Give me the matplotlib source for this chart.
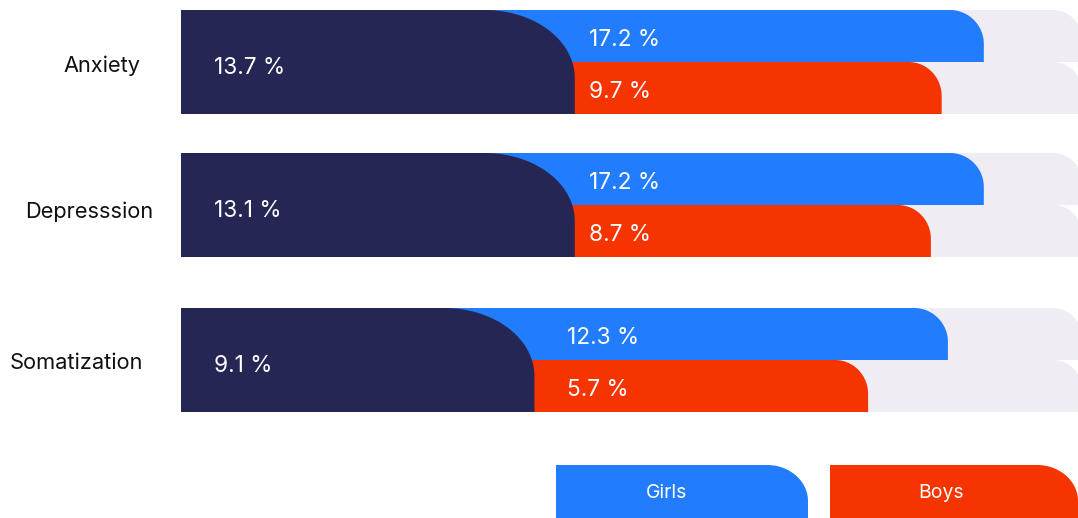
import matplotlib
matplotlib.use("Agg")
import matplotlib.pyplot as plt
from matplotlib.patches import Polygon
import numpy as np

# ---- data ----
categories = ["Anxiety", "Depresssion", "Somatization"]
overall_pct = [13.7, 13.1, 9.1]
girls_pct = [17.2, 17.2, 12.3]
boys_pct = [9.7, 8.7, 5.7]
# drawn bar lengths on the 0-100 track
overall_len = [43.9, 43.9, 39.4]
girls_len = [89.5, 89.5, 85.5]
boys_len = [84.8, 83.6, 76.6]
legend_labels = ["Girls", "Boys"]

NAVY = "#262654"
BLUE = "#217CFE"
RED = "#F53400"
GRAY = "#EFECF3"

plt.rcParams["font.family"] = ["Inter", "DejaVu Sans"]

W, H = 1078, 518
fig = plt.figure(figsize=(W / 100, H / 100), dpi=100)
X0 = 181
ax = fig.add_axes([X0 / W, 0, (W - X0) / W, 1])
ax.set_xlim(0, 100)
ax.set_ylim(H, 0)
ax.axis("off")
dx = 100 / (W - X0)  # data units per pixel


def rbar(x0, x1, ytop, ybot, rx_px, ry_px, color, z):
    rx = min(rx_px * dx, x1 - x0)
    ry = min(ry_px, ybot - ytop)
    t = np.linspace(np.pi / 2, 0, 40)
    arc = np.column_stack([x1 - rx + rx * np.cos(t), ytop + ry - ry * np.sin(t)])
    pts = np.vstack([[x0, ybot], [x0, ytop], arc, [x1, ybot]])
    p = Polygon(pts, closed=True, facecolor=color, edgecolor="none", zorder=z,
                antialiased=True)
    ax.add_patch(p)


row_top = [10, 153, 308]
half = 52
label_x = [63, 25, 10]
label_dy = [4, 7, 3]
val_off = [14, 14, 33]

for i, cat in enumerate(categories):
    yt = row_top[i]
    ym = yt + half
    yb = yt + 2 * half
    # tracks
    rbar(0, 100.3, yt, ym, 28, 26, GRAY, 1)
    rbar(0, 100.3, ym, yb, 28, 26, GRAY, 1)
    # girls / boys
    rbar(0, girls_len[i], yt, ym, 34, 34, BLUE, 2)
    rbar(0, boys_len[i], ym, yb, 33, 34, RED, 3)
    # overall
    rbar(0, overall_len[i], yt, yb, 90, 68, NAVY, 4)

    kw = dict(color="white", fontsize=16.3, va="center", ha="left", zorder=5)
    ax.text(33 * dx, (yt + yb) / 2 + 6, f"{overall_pct[i]} %", **kw)
    lx = overall_len[i] + val_off[i] * dx
    ax.text(lx, (yt + ym) / 2 + 4, f"{girls_pct[i]} %", **kw)
    ax.text(lx, (ym + yb) / 2 + 4, f"{boys_pct[i]} %", **kw)
    ax.text((label_x[i] - X0) * dx, ym + label_dy[i], cat, color="#111111",
            fontsize=15.7, va="center", ha="left", clip_on=False)

# legend
leg = [(556, 808, BLUE), (830, 1078, RED)]
for (a, b, c), lab in zip(leg, legend_labels):
    rbar((a - X0) * dx, (b - X0) * dx, 465, 540, 41, 36, c, 2)
    ax.text((a + 111 - X0) * dx, 493, lab, color="white", fontsize=14,
            ha="center", va="center", zorder=5)

fig.savefig("out.png", dpi=100)
